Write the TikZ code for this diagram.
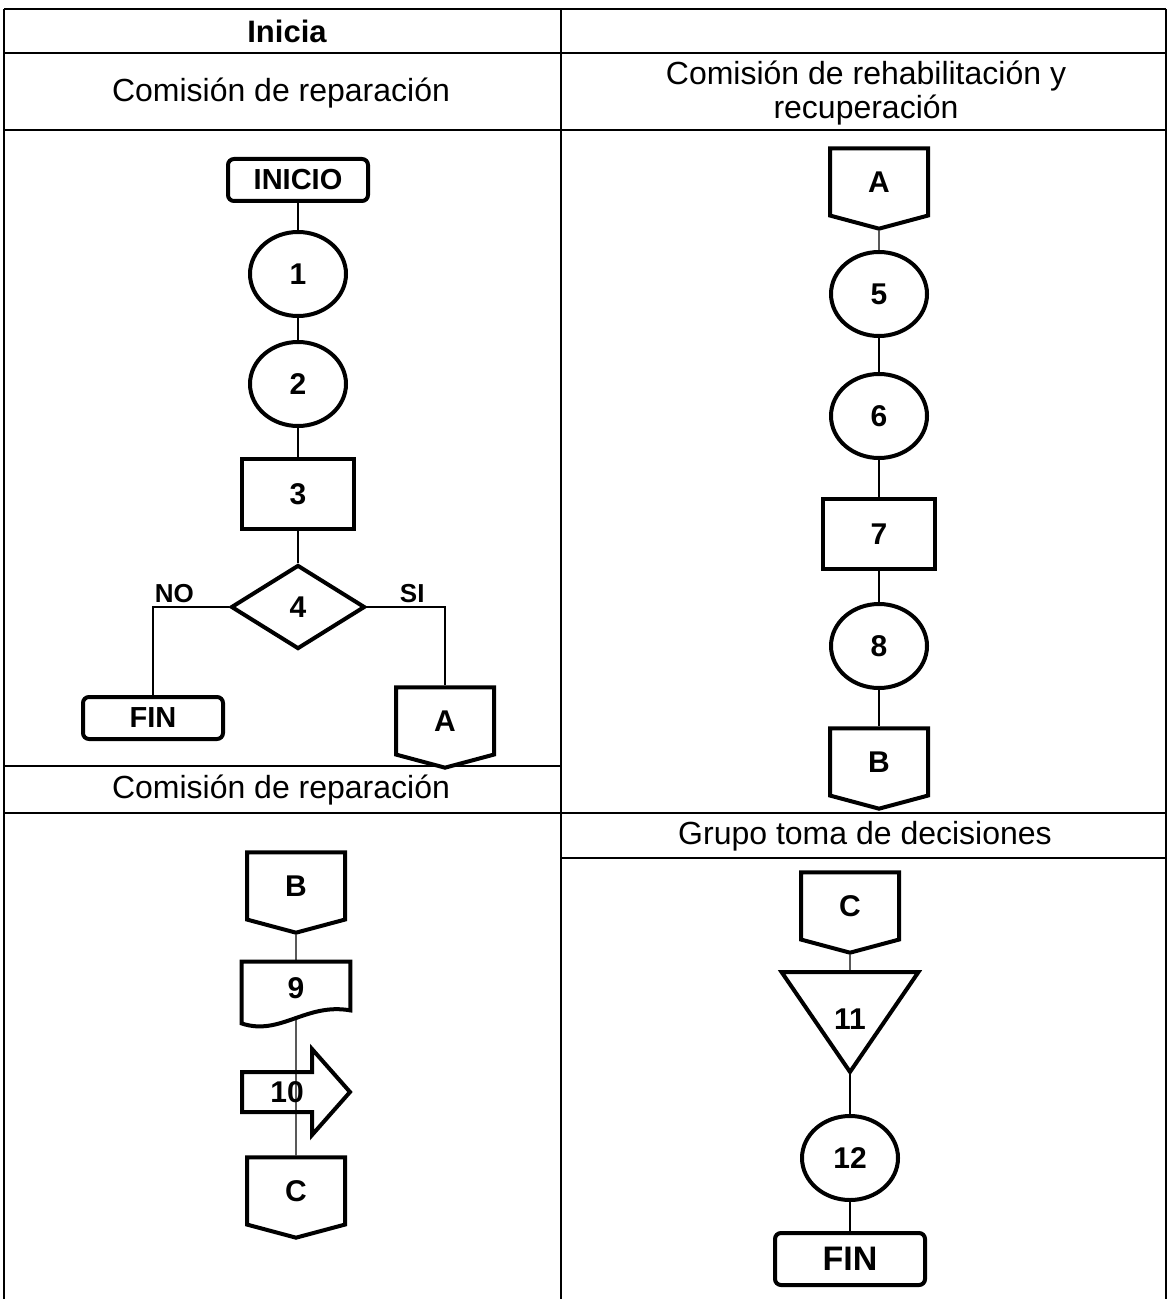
\documentclass[tikz,border=0pt]{standalone}
\usepackage{fontspec}
\setmainfont{Liberation Sans}
\usetikzlibrary{shapes,positioning,backgrounds}

\newcommand{\shplabel}{\fontsize{15}{17}\selectfont\bfseries}

\begin{document}
\begin{tikzpicture}[
				x=0.5pt, y=-0.5pt,
				node distance = 55pt,
				grid/.style={
					draw,
					line width=1.1pt
					},
				head/.style={
					font=\fontsize{16}{17}\selectfont,
					align=center
					},
				term/.style={
					rectangle,
					rounded corners=3pt,
					draw,
					fill=white,
					line width=2pt,
					minimum width=70pt,
					minimum height=21pt,
					inner sep=0pt,
					font=\fontsize{14.5}{16}\selectfont\bfseries
					},
				oper/.style={
					ellipse,
					draw,
					fill=white,
					line width=2pt,
					minimum width=48pt,
					minimum height=42pt,
					inner sep=0pt,
					font=\shplabel
					},
				proc/.style={
					rectangle,
					draw,
					fill=white,
					line width=2pt,
					minimum width=56pt,
					minimum height=35pt,
					inner sep=0pt,
					font=\shplabel
					},
				decision/.style={
					diamond,
					draw,
					fill=white,
					line width=2pt,
					minimum width=67pt,
					minimum height=42pt,
					inner sep=0pt,
					font=\shplabel
					},
				offpage/.style={
					signal,
					signal to=south,
					signal pointer angle=150,
					draw,
					fill=white,
					line width=2pt,
					minimum width=49pt,
					minimum height=35pt,
					inner sep=0pt,
					font=\shplabel
					},
				ghost/.style={
					rectangle,
					inner sep=0pt,
					font=\shplabel
					},
				outline/.style={
					draw,
					fill=white,
					line width=2pt,
					line join=miter
					},
				link/.style={
					draw,
					line width=0.7pt
					},
				tag/.style={
					font=\fontsize{13}{15}\selectfont\bfseries,
					inner sep=2pt
					}]
			    \useasboundingbox (0,0) rectangle (1169,1299);

			    % Table
			    \path [grid] (4,9) -- (1166,9);
			    \path [grid] (4,53) -- (1166,53);
			    \path [grid] (4,130) -- (1166,130);
			    \path [grid] (4,766) -- (561,766);
			    \path [grid] (4,813) -- (1166,813);
			    \path [grid] (561,858) -- (1166,858);
			    \path [grid] (4,9) -- (4,1299);
			    \path [grid] (561,9) -- (561,1299);
			    \path [grid] (1166,9) -- (1166,1299);

			    \node [head, font=\fontsize{15.5}{17}\selectfont\bfseries] (hInicia) at (287,31) {Inicia};
			    \node [head] (hRep) at (281,93) {Comisión de reparación};
			    \node [head] (hRehab) at (866,93) {Comisión de rehabilitación y\\recuperación};
			    \node [head] (hRep2) at (281,790) {Comisión de reparación};
			    \node [head] (hGrupo) at (865,836) {Grupo toma de decisiones};

			    % Place nodes
			    \node [term] (start) at (298,180) {INICIO};
			    \node [oper, below of=start, node distance=47pt] (op1) {1};
			    \node [oper, below of=op1] (op2) {2};
			    \node [proc, below of=op2] (pr3) {3};
			    \node [decision, below of=pr3, node distance=56.5pt] (dec4) {4};
			    \node [term] (endA) at (153,718) {FIN};
			    \node [offpage] (outA) at (445,721) {A};

			    \node [offpage] (inA) at (879,182) {A};
			    \node [oper, below of=inA, node distance=56pt] (op5) {5};
			    \node [oper, below of=op5, node distance=61pt] (op6) {6};
			    \node [proc, below of=op6, node distance=59pt] (pr7) {7};
			    \node [oper, below of=pr7, node distance=56pt] (op8) {8};
			    \node [offpage, below of=op8, node distance=58pt] (outB) {B};

			    \node [offpage] (inB) at (296,886) {B};
			    \node [ghost, minimum width=54pt, minimum height=26pt, below of=inB, node distance=51pt] (doc9) {9};
			    \node [ghost, below of=doc9, node distance=52pt, xshift=-4.5pt] (tr10) {10};
			    \node [offpage, below of=doc9, node distance=101.5pt] (outC) {C};

			    \node [offpage] (inC) at (850,906) {C};
			    \node [ghost, minimum width=68pt, minimum height=49.5pt, below of=inC, node distance=58pt] (in11) {\raisebox{3pt}{11}};
			    \node [oper, below of=in11, node distance=68pt] (op12) {12};
			    \node [term, below of=op12, node distance=50.5pt, minimum width=75pt, minimum height=26pt, font=\fontsize{17}{18}\selectfont\bfseries] (endB) {FIN};

			    \begin{scope}[on background layer]
			    % Draw edges
			    \path [link] (start) -- (op1);
			    \path [link] (op1) -- (op2);
			    \path [link] (op2) -- (pr3);
			    \path [link] (pr3) -- (dec4);
			    \path [link] (dec4.west) -| node [tag, pos=0.36, above] {NO} (endA.north);
			    \path [link] (dec4.east) -| node [tag, pos=0.29, above] {SI} (outA.north);
			    \path [link] (inA) -- (op5);
			    \path [link] (op5) -- (op6);
			    \path [link] (op6) -- (pr7);
			    \path [link] (pr7) -- (op8);
			    \path [link] (op8) -- (outB);
			    \path [link] (inB) -- (doc9);
			    \path [link] (doc9) -- (outC);
			    \path [link] (inC) -- (in11);
			    \path [link] (in11.south) -- (op12);
			    \path [link] (op12) -- (endB);

			    % Drawn shapes
			    \path [outline] (doc9.north west) -- (doc9.north east) -- ([yshift=2pt]doc9.south east)
			        .. controls ([shift={(5pt,6pt)}]doc9.south) and ([shift={(-8pt,-11pt)}]doc9.south) .. ([yshift=-4.5pt]doc9.south west) -- cycle;
			    \path [outline, fill=none] ([shift={(-22.5pt,10pt)}]tr10.center) -- ([shift={(12.5pt,10pt)}]tr10.center)
			        -- ([shift={(12.5pt,21.5pt)}]tr10.center) -- ([shift={(31.5pt,0pt)}]tr10.center) -- ([shift={(12.5pt,-21.5pt)}]tr10.center)
			        -- ([shift={(12.5pt,-10pt)}]tr10.center) -- ([shift={(-22.5pt,-10pt)}]tr10.center) -- cycle;
			    \path [outline] (in11.north west) -- (in11.north east) -- (in11.south) -- cycle;
			    \end{scope}
			\end{tikzpicture}
\end{document}
